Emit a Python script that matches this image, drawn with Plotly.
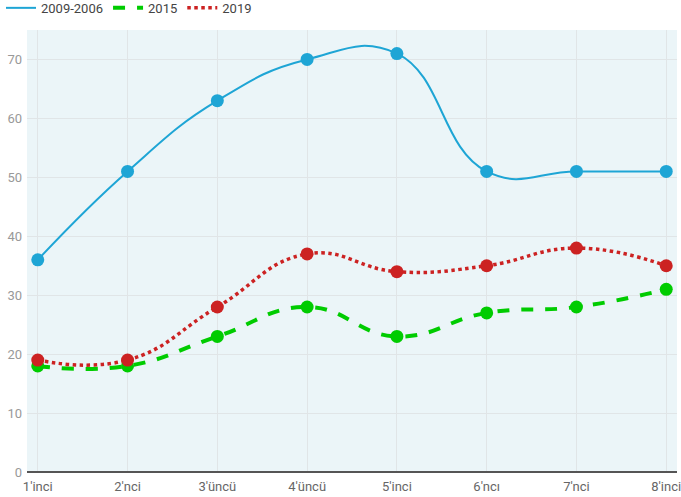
import plotly.graph_objects as go

categories = ["1'inci", "2'nci", "3'üncü", "4'üncü", "5'inci", "6'ncı", "7'nci", "8'inci"]
series_2009 = [36, 51, 63, 70, 71, 51, 51, 51]
series_2015 = [18, 18, 23, 28, 23, 27, 28, 31]
series_2019 = [19, 19, 28, 37, 34, 35, 38, 35]

series = [
    ('2009-2006', series_2009, '#1ea5d5', 2, 'solid'),
    ('2015', series_2015, '#00cc00', 4, 'dash'),
    ('2019', series_2019, '#cc2222', 3.5, 'dot'),
]

fig = go.Figure()

# lines carry the legend, markers drawn separately so legend shows only the line
for name, vals, color, width, dash in series:
    fig.add_trace(go.Scatter(
        x=categories, y=vals, name=name, mode='lines',
        line=dict(color=color, width=width, dash=dash, shape='spline', smoothing=1.3)
    ))
for name, vals, color, width, dash in series:
    fig.add_trace(go.Scatter(
        x=categories, y=vals, name=name, mode='markers', showlegend=False,
        marker=dict(size=13, color=color)
    ))

fig.update_layout(
    width=681, height=497,
    margin=dict(l=27, r=4, t=30, b=25, autoexpand=False),
    plot_bgcolor='#ebf5f8',
    paper_bgcolor='white',
    font=dict(family='Roboto', size=13, color='#888888'),
    showlegend=True,
    legend=dict(orientation='h', x=-0.04, y=1.05, xanchor='left', yanchor='middle',
                font=dict(size=13, color='#444444'), itemwidth=30,
                bgcolor='rgba(0,0,0,0)'),
)
fig.update_xaxes(
    range=[-0.12, 7.12], showgrid=True, gridcolor='#e0e5e7',
    showline=False, ticks='', ticklabelstandoff=5,
    tickfont=dict(color='#666666', size=13)
)
fig.update_yaxes(
    range=[0, 75], dtick=10, showgrid=True, gridcolor='#e0e5e7',
    zeroline=True, zerolinecolor='#555555', zerolinewidth=2,
    ticklabelstandoff=4, tickfont=dict(color='#999999', size=13)
)

fig.write_html("out.html", config={'displayModeBar': False},
               post_script="document.body.style.margin='0';")
